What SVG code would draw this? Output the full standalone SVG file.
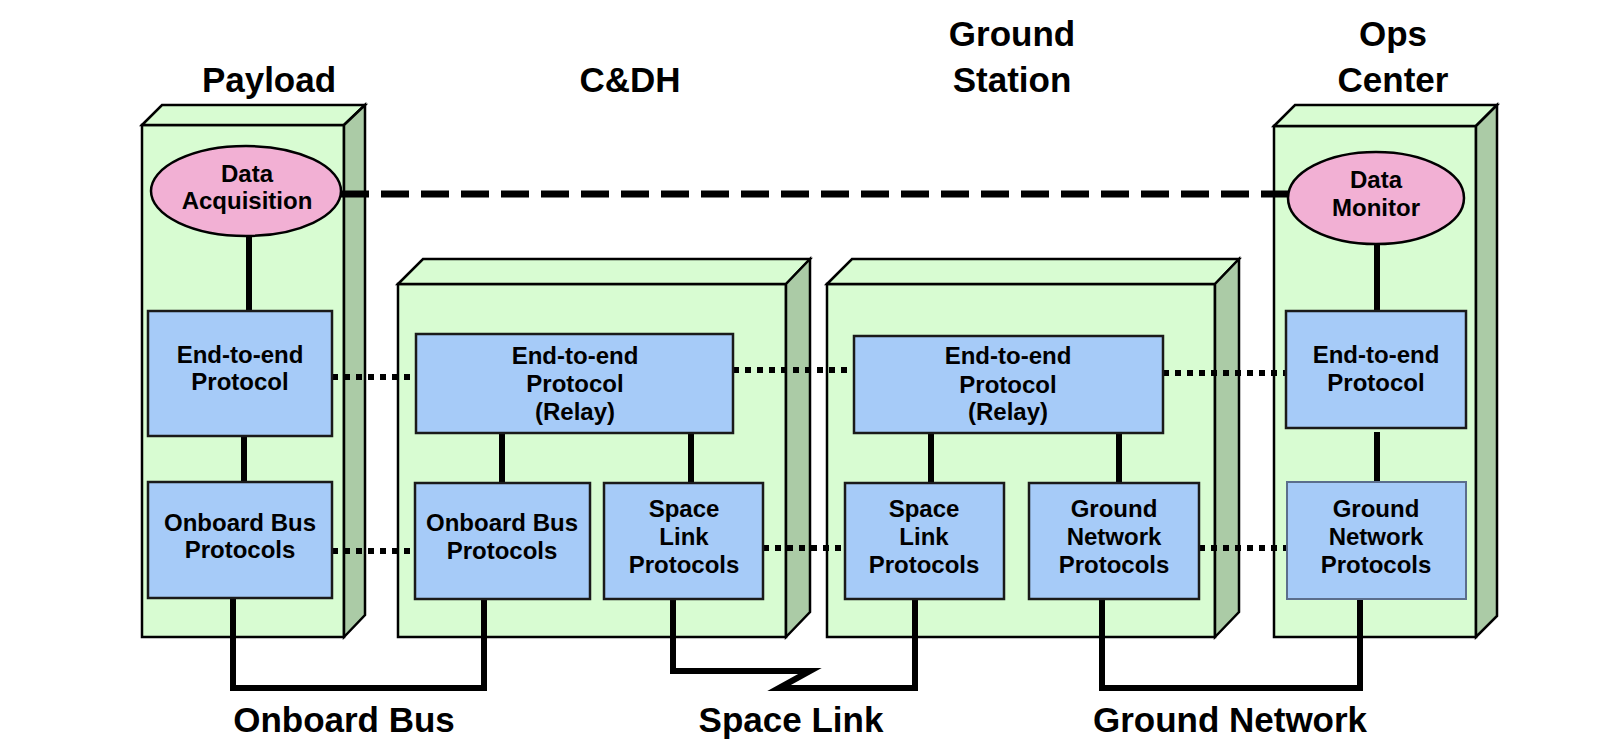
<svg xmlns="http://www.w3.org/2000/svg" width="1614" height="756" viewBox="0 0 1614 756">
<style>
.front{fill:#d8fcd2;stroke:#000;stroke-width:2.5}
.top{fill:#d8fcd2;stroke:#000;stroke-width:2.5;stroke-linejoin:miter}
.side{fill:#abcba6;stroke:#000;stroke-width:2.5}
.box{fill:#a6cbf8;stroke:#1a1a1a;stroke-width:2.5}
.box2{fill:#a6cbf8;stroke:#5b6e8c;stroke-width:2}
.ell{fill:#f2b0d4;stroke:#000;stroke-width:2.5}
.t{font-family:"Liberation Sans",Arial,sans-serif;font-weight:bold;font-size:24px;text-anchor:middle;fill:#000}
.title{font-family:"Liberation Sans",Arial,sans-serif;font-weight:bold;font-size:35px;text-anchor:middle;fill:#000}
.solid{fill:none;stroke:#000;stroke-width:6}
.dot{fill:none;stroke:#000;stroke-width:6;stroke-dasharray:6 6}
.dash{fill:none;stroke:#000;stroke-width:7;stroke-dasharray:28 12}
</style>
<rect width="1614" height="756" fill="#fff"/>

<g id="titles">
<text class="title" x="269" y="92">Payload</text>
<text class="title" x="630" y="92">C&amp;DH</text>
<text class="title" x="1012" y="46">Ground</text>
<text class="title" x="1012" y="92">Station</text>
<text class="title" x="1393" y="46">Ops</text>
<text class="title" x="1393" y="92">Center</text>
</g>

<g id="payload">
<rect class="front" x="142" y="125" width="202" height="512"/>
<polygon class="top" points="142,125 162,105 365,105 344,125"/>
<polygon class="side" points="344,125 365,105 365,615 344,637"/>
</g>
<g id="cdh">
<rect class="front" x="398" y="284" width="388" height="353"/>
<polygon class="top" points="398,284 423,259 810,259 786,284"/>
<polygon class="side" points="786,284 810,259 810,612 786,637"/>
</g>
<g id="ground-station">
<rect class="front" x="827" y="284" width="388" height="353"/>
<polygon class="top" points="827,284 852,259 1239,259 1215,284"/>
<polygon class="side" points="1215,284 1239,259 1239,612 1215,637"/>
</g>
<g id="ops-center">
<rect class="front" x="1274" y="126" width="202" height="511"/>
<polygon class="top" points="1274,126 1295,105 1497,105 1476,126"/>
<polygon class="side" points="1476,126 1497,105 1497,616 1476,637"/>
</g>

<g id="connectors">
<line class="dash" x1="341" y1="194" x2="1289" y2="194"/>
<line class="dot" x1="332" y1="377" x2="416" y2="377"/>
<line class="dot" x1="733" y1="370" x2="854" y2="370"/>
<line class="dot" x1="1163" y1="373" x2="1286" y2="373"/>
<line class="dot" x1="332" y1="551" x2="415" y2="551"/>
<line class="dot" x1="763" y1="548" x2="845" y2="548"/>
<line class="dot" x1="1199" y1="548" x2="1287" y2="548"/>
<line class="solid" x1="249" y1="236" x2="249" y2="311"/>
<line class="solid" x1="244" y1="436" x2="244" y2="482"/>
<line class="solid" x1="502" y1="433" x2="502" y2="483"/>
<line class="solid" x1="691" y1="433" x2="691" y2="483"/>
<line class="solid" x1="931" y1="433" x2="931" y2="483"/>
<line class="solid" x1="1119" y1="433" x2="1119" y2="483"/>
<line class="solid" x1="1377" y1="244" x2="1377" y2="311"/>
<line class="solid" x1="1377" y1="432" x2="1377" y2="482"/>
<polyline class="solid" points="233,598 233,688 484,688 484,599"/>
<polyline class="solid" style="stroke-miterlimit:12" points="673,599 673,671 810,671 779,688 915,688 915,599"/>
<polyline class="solid" points="1102,599 1102,688 1360,688 1360,599"/>
</g>

<g id="data-acquisition">
<ellipse class="ell" cx="246" cy="191" rx="95" ry="45"/>
<text class="t" x="247" y="182">Data</text>
<text class="t" x="247" y="209">Acquisition</text>
</g>
<g id="payload-e2e">
<rect class="box" x="148" y="311" width="184" height="125"/>
<text class="t" x="240" y="363">End-to-end</text>
<text class="t" x="240" y="390">Protocol</text>
</g>
<g id="payload-obp">
<rect class="box" x="148" y="482" width="184" height="116"/>
<text class="t" x="240" y="531">Onboard Bus</text>
<text class="t" x="240" y="558">Protocols</text>
</g>

<g id="cdh-relay">
<rect class="box" x="416" y="334" width="317" height="99"/>
<text class="t" x="575" y="364">End-to-end</text>
<text class="t" x="575" y="392">Protocol</text>
<text class="t" x="575" y="420">(Relay)</text>
</g>
<g id="cdh-obp">
<rect class="box" x="415" y="483" width="175" height="116"/>
<text class="t" x="502" y="531">Onboard Bus</text>
<text class="t" x="502" y="559">Protocols</text>
</g>
<g id="cdh-slp">
<rect class="box" x="604" y="483" width="159" height="116"/>
<text class="t" x="684" y="517">Space</text>
<text class="t" x="684" y="545">Link</text>
<text class="t" x="684" y="573">Protocols</text>
</g>

<g id="gs-relay">
<rect class="box" x="854" y="336" width="309" height="97"/>
<text class="t" x="1008" y="364">End-to-end</text>
<text class="t" x="1008" y="393">Protocol</text>
<text class="t" x="1008" y="420">(Relay)</text>
</g>
<g id="gs-slp">
<rect class="box" x="845" y="483" width="159" height="116"/>
<text class="t" x="924" y="517">Space</text>
<text class="t" x="924" y="545">Link</text>
<text class="t" x="924" y="573">Protocols</text>
</g>
<g id="gs-gnp">
<rect class="box" x="1029" y="483" width="170" height="116"/>
<text class="t" x="1114" y="517">Ground</text>
<text class="t" x="1114" y="545">Network</text>
<text class="t" x="1114" y="573">Protocols</text>
</g>

<g id="data-monitor">
<ellipse class="ell" cx="1376" cy="198" rx="88" ry="46"/>
<text class="t" x="1376" y="188">Data</text>
<text class="t" x="1376" y="216">Monitor</text>
</g>
<g id="ops-e2e">
<rect class="box" x="1286" y="311" width="180" height="117"/>
<text class="t" x="1376" y="363">End-to-end</text>
<text class="t" x="1376" y="391">Protocol</text>
</g>
<g id="ops-gnp">
<rect class="box2" x="1287" y="482" width="179" height="117"/>
<text class="t" x="1376" y="517">Ground</text>
<text class="t" x="1376" y="545">Network</text>
<text class="t" x="1376" y="573">Protocols</text>
</g>

<g id="link-labels">
<text class="title" x="344" y="732">Onboard Bus</text>
<text class="title" x="791" y="732">Space Link</text>
<text class="title" x="1230" y="732">Ground Network</text>
</g>
</svg>
